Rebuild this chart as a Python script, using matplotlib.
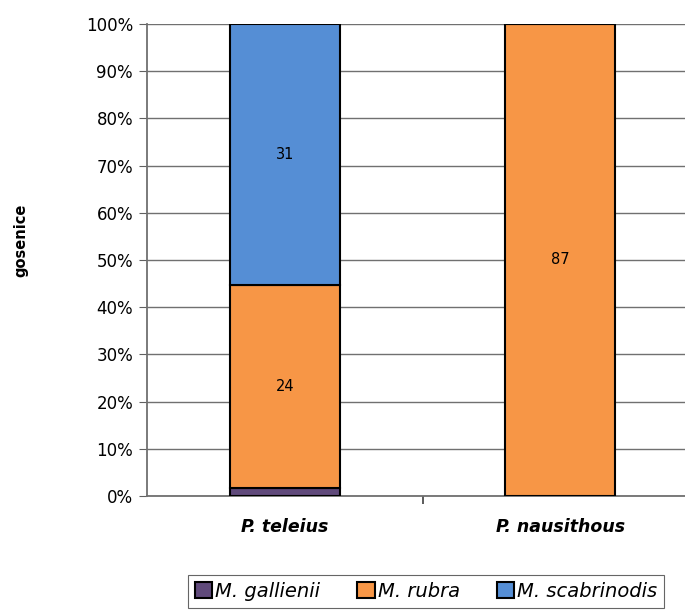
import numpy as np
import matplotlib.pyplot as plt
from matplotlib.ticker import PercentFormatter

# host species and ant counts per host
hosts = ['P. teleius', 'P. nausithous']
ants = ['M. gallienii', 'M. rubra', 'M. scabrinodis']
counts = {
    'M. gallienii': [1, 0],
    'M. rubra': [24, 87],
    'M. scabrinodis': [31, 0],
}
colors = ['#604A7B', '#F79646', '#558ED5']

F = 12
fig = plt.figure(figsize=(6.85, 6.14), dpi=100)
ax = fig.add_axes([147/685, 1-496/614, 551/685, 472/614])

x = np.arange(len(hosts))
tot = np.sum([counts[a] for a in ants], axis=0)
bottom = np.zeros(len(hosts))
for a, c in zip(ants, colors):
    v = np.array(counts[a], dtype=float)
    pct = v/tot*100
    ax.bar(x, pct, 0.4, bottom=bottom, color=c, edgecolor='black',
           linewidth=1.5, label=a, zorder=3)
    for i in range(len(hosts)):
        if v[i] > 1:
            ax.text(x[i], bottom[i]+pct[i]/2, '%d' % v[i], ha='center',
                    va='center', fontsize=10.5, zorder=4)
    bottom += pct

ax.set_xlim(-0.5, 1.5)
ax.set_ylim(0, 100)
ax.set_yticks(np.arange(0, 101, 10))
ax.yaxis.set_major_formatter(PercentFormatter(decimals=0))
ax.tick_params(axis='y', labelsize=F, direction='out', length=6,
               color='#606060', pad=4)
ax.set_xticks([0.5], minor=True)
ax.set_xticks(x)
ax.set_xticklabels(hosts, fontsize=12.5, fontweight='bold', fontstyle='italic')
ax.tick_params(axis='x', which='major', length=0, pad=16)
ax.tick_params(axis='x', which='minor', length=6, width=1.2, color='#404040')
ax.grid(axis='y', color='#707070', linewidth=1, zorder=0)
for s in ['top', 'right']:
    ax.spines[s].set_visible(False)
ax.spines['left'].set_color('#707070')
ax.spines['bottom'].set_color('#707070')
ax.spines['left'].set_linewidth(1.3)
ax.spines['bottom'].set_linewidth(1.3)

fig.text(0.03, 1-240/614, 'gosenice', rotation=90, ha='center',
         va='center', fontsize=10.5, fontweight='bold')

leg = fig.legend(loc='upper left', bbox_to_anchor=(188/685, 1-575/614),
                 ncol=3, frameon=True, fancybox=False, edgecolor='#404040',
                 prop={'size': 14, 'style': 'italic'}, handlelength=0.9,
                 handleheight=0.9, handletextpad=0.15, columnspacing=1.9,
                 borderpad=0.35, borderaxespad=0)
leg.get_frame().set_linewidth(0.8)

plt.savefig('out.png', dpi=100)
